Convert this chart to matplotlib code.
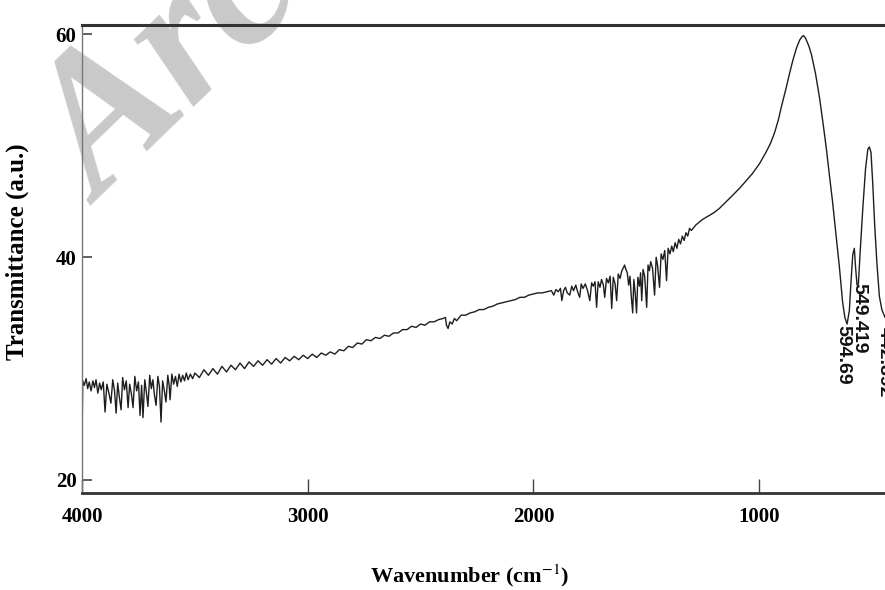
import numpy as np
import matplotlib
matplotlib.use("Agg")
import matplotlib.pyplot as plt

plt.rcParams["mathtext.fontset"] = "stix"

# FTIR spectrum, in segments (wavenumber cm-1, transmittance a.u.)
wn_a = [4000, 3997, 3990, 3982, 3975, 3968, 3960, 3952, 3945, 3938,
        3930, 3922, 3915, 3906, 3898, 3890, 3881, 3872, 3864, 3856,
        3849, 3842, 3835, 3827, 3820, 3812, 3804, 3796, 3789, 3781,
        3774, 3766, 3758, 3750, 3743, 3736, 3730, 3722, 3715, 3708,
        3700, 3693, 3686, 3679, 3672, 3664, 3657, 3650, 3643, 3636,
        3628, 3620, 3614, 3610, 3602, 3594, 3586, 3578, 3570, 3562,
        3554, 3546, 3538, 3530, 3520, 3510, 3500]
t_a = [23.6, 28.9, 28.5, 29.1, 28.2, 28.8, 28.0, 28.9, 28.3, 29.0,
       27.8, 28.7, 28.1, 28.8, 26.1, 28.6, 27.8, 26.9, 29.0, 28.0,
       26.0, 28.7, 27.5, 26.3, 29.2, 28.1, 28.9, 26.5, 28.6, 27.7,
       26.5, 29.3, 28.0, 28.8, 25.8, 28.5, 25.6, 29.0, 27.9, 26.6,
       29.4, 28.2, 29.0, 27.6, 26.7, 29.3, 28.4, 25.2, 28.9, 28.1,
       27.0, 29.4, 28.5, 27.2, 29.5, 28.6, 29.3, 28.4, 29.5, 28.8,
       29.4, 28.9, 29.6, 29.0, 29.5, 29.1, 29.6]

wn_b = [3480, 3460, 3440, 3420, 3400, 3380, 3360, 3340, 3320, 3300,
        3280, 3260, 3240, 3220, 3200, 3180, 3160, 3140, 3120, 3100,
        3080, 3060, 3040, 3020, 3000, 2980, 2960, 2940, 2920, 2900,
        2880, 2860, 2840, 2820, 2800, 2780, 2760, 2740, 2720, 2700,
        2680, 2660, 2640, 2620, 2600, 2580, 2560, 2540, 2520, 2500,
        2480, 2460, 2440, 2420, 2400,
        2390, 2385, 2378, 2370, 2360, 2350, 2340, 2320, 2300, 2280,
        2260, 2240, 2220, 2200, 2180, 2160, 2140, 2120, 2100, 2080,
        2060, 2040, 2020, 2000, 1980, 1960, 1940, 1920]
t_b = [29.2, 29.9, 29.4, 30.0, 29.5, 30.2, 29.7, 30.3, 29.9, 30.5,
       30.0, 30.6, 30.2, 30.7, 30.3, 30.8, 30.4, 30.9, 30.5, 31.0,
       30.7, 31.1, 30.8, 31.2, 30.9, 31.3, 31.0, 31.4, 31.2, 31.5,
       31.3, 31.7, 31.6, 32.0, 31.9, 32.3, 32.2, 32.6, 32.5, 32.8,
       32.7, 33.0, 32.9, 33.2, 33.2, 33.5, 33.5, 33.8, 33.7, 34.0,
       33.9, 34.2, 34.2, 34.4, 34.5,
       34.6, 33.9, 33.6, 34.2, 34.0, 34.5, 34.3, 34.8, 34.8, 35.0,
       35.1, 35.3, 35.3, 35.5, 35.6, 35.8, 35.9, 36.0, 36.1, 36.2,
       36.4, 36.4, 36.6, 36.7, 36.8, 36.8, 36.9, 37.0]

wn_c = [1910, 1900, 1890, 1880, 1874, 1866, 1858, 1850, 1839, 1830,
        1822, 1812, 1804, 1795, 1788, 1780, 1770, 1760, 1750, 1742,
        1735, 1727, 1720, 1713, 1705, 1698, 1690, 1684, 1676, 1668,
        1660, 1653, 1646, 1638, 1631, 1624, 1616, 1608, 1600, 1596,
        1590, 1584, 1578, 1572, 1566, 1560, 1555, 1549, 1543, 1537,
        1530, 1525, 1520, 1514, 1507, 1498, 1492, 1486, 1480, 1472,
        1463, 1456, 1450, 1441, 1434, 1426, 1418, 1410, 1403, 1395,
        1387, 1380, 1372, 1364, 1356, 1348, 1340, 1332, 1324, 1316,
        1308, 1300]
t_c = [36.6, 37.1, 36.9, 37.2, 36.1, 37.0, 37.3, 36.8, 36.6, 37.4,
       37.0, 37.5, 36.9, 36.4, 37.6, 37.2, 37.6, 37.0, 36.1, 37.7,
       37.4, 37.8, 35.5, 37.8, 37.3, 38.0, 37.5, 36.4, 38.1, 37.7,
       38.3, 35.4, 38.2, 37.6, 36.1, 38.5, 38.1, 38.8, 39.1, 39.3,
       38.9, 38.6, 37.5, 38.3, 36.4, 35.0, 38.0, 36.8, 35.0, 38.2,
       37.4, 38.6, 36.1, 38.9, 38.3, 35.5, 39.3, 38.8, 39.6, 39.0,
       36.6, 40.0, 39.3, 37.3, 40.3, 39.8, 40.6, 37.9, 40.8, 40.3,
       41.0, 40.5, 41.3, 40.8, 41.6, 41.2, 41.9, 41.5, 42.2, 41.9,
       42.6, 42.4]

wn_d = [1280, 1250, 1200, 1175, 1150, 1120, 1086, 1060, 1030, 998,
        970, 950, 931, 915, 900, 880, 865, 850, 834, 820,
        810, 803, 795, 780, 768, 750, 732, 715, 701, 688,
        675, 660, 644, 630, 620, 610, 600, 592, 585, 578,
        572, 566, 560, 552, 540, 528, 518, 511, 504, 496,
        488, 478, 467, 456, 448, 442]
t_d = [42.9, 43.4, 44.0, 44.4, 44.9, 45.5, 46.2, 46.8, 47.5, 48.4,
       49.4, 50.2, 51.2, 52.3, 53.6, 55.2, 56.5, 57.7, 58.8, 59.5,
       59.8, 59.9, 59.7, 59.0, 58.2, 56.5, 54.3, 51.8, 49.6, 47.3,
       45.1, 42.2, 39.1, 36.0, 34.6, 34.0, 35.2, 38.0, 40.2, 40.8,
       39.0, 37.5, 37.6, 40.5, 44.5, 48.0, 49.7, 49.9, 49.4, 46.5,
       43.0, 39.5, 36.5, 35.3, 34.9, 34.6]

# peak labels: text, x position, top of text
peak_labels = ["594.69", "549.419", "442.892"]
peak_x = [629, 557, 446]
peak_y = [33.9, 37.7, 33.7]

wavenumber = np.concatenate([wn_a, wn_b, wn_c, wn_d])
transmittance = np.concatenate([t_a, t_b, t_c, t_d])

fig = plt.figure(figsize=(8.85, 5.9), dpi=100)
ax = fig.add_axes([0.0927, 0.1644, 0.9073, 0.7932])
ax.patch.set_alpha(0)

# faint watermark behind the plot
fig.text(0.114, 0.65, "Archive", fontsize=140, family="Liberation Serif",
         style="italic", weight="bold", color="#c9c9c9", rotation=44,
         rotation_mode="anchor", ha="left", va="baseline", zorder=-1)

ax.plot(wavenumber, transmittance, color="#1e1e1e", lw=1.0)

for lab, px, py in zip(peak_labels, peak_x, peak_y):
    ax.text(px, py, lab, rotation=270, ha="center", va="top", fontsize=14,
            family="Liberation Sans", weight="bold", color="#111111")

ax.set_xlim(4000, 442)
ax.set_ylim(18.83, 60.85)
ax.set_xticks([4000, 3000, 2000, 1000])
ax.set_yticks([20, 40, 60])

tick_font = dict(family="Liberation Serif", weight="bold", size=15)
for t in ax.get_xticklabels() + ax.get_yticklabels():
    t.set_fontproperties(matplotlib.font_manager.FontProperties(**tick_font))
ax.tick_params(axis="x", direction="in", length=10, width=1, pad=10, color="#444444")
ax.tick_params(axis="y", direction="in", length=7, width=1.2, pad=4, color="#444444")

ax.spines["right"].set_visible(False)
ax.spines["top"].set_linewidth(2.2)
ax.spines["top"].set_color("#333333")
ax.spines["bottom"].set_linewidth(2.0)
ax.spines["bottom"].set_color("#333333")
ax.spines["left"].set_linewidth(1.0)
ax.spines["left"].set_color("#777777")

ax.set_xlabel(r"Wavenumber (cm$^{-1}$)", family="Liberation Serif",
              weight="bold", fontsize=16)
ax.xaxis.set_label_coords(0.483, -0.148)
ax.set_ylabel("Transmittance (a.u.)", family="Liberation Serif",
              weight="bold", fontsize=18)
ax.yaxis.set_label_coords(-0.066, 0.515)

fig.savefig("out.png", dpi=100)
